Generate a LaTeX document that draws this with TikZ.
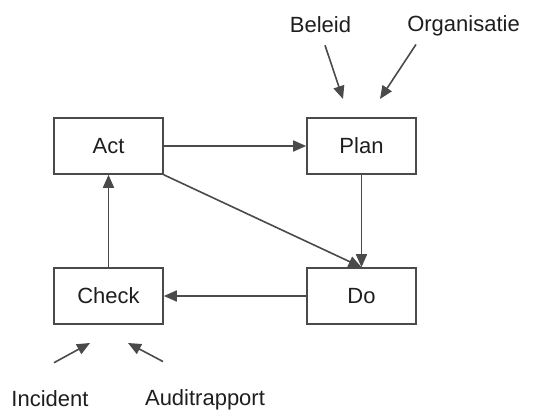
\documentclass[tikz,border=0pt]{standalone}
\usepackage{fontspec}
\setmainfont{Liberation Sans}
\usepackage{xcolor}
\usetikzlibrary{arrows.meta, positioning, calc}

\definecolor{linegray}{HTML}{4A4A4A}
\definecolor{textdark}{HTML}{1E1E1E}

\begin{document}
\begin{tikzpicture}[x=1pt, y=-1pt,
    phase/.style={draw=linegray, line width=1.6pt, rectangle, minimum width=109pt, minimum height=56pt, text=textdark, font=\fontsize{22}{26}\selectfont},
    input/.style={text=textdark, font=\fontsize{22}{26}\selectfont, inner sep=0pt},
    flow/.style={draw=linegray, line width=1.6pt, -{Triangle[length=13pt, width=11pt]}}]
  \useasboundingbox (0,0) rectangle (541,413);

  % the four phases
  \node[phase] (act) at (108.5, 146) {Act};
  \node[phase] (plan) at (361.5, 146) {Plan};
  \node[phase] (check) at (108.5, 296) {Check};
  \node[phase] (do) at (361.5, 296) {Do};

  % inputs
  \node[input] (beleid) at (320.5, 25) {Beleid};
  \node[input] (organisatie) at (463.5, 26) {Organisatie};
  \node[input] (incident) at (50, 399) {Incident};
  \node[input] (auditrapport) at (205, 400) {Auditrapport};

  \coordinate (beleid-to) at (343, 99);
  \coordinate (organisatie-to) at (380, 99);
  \coordinate (incident-to) at (90, 343);
  \coordinate (auditrapport-to) at (128, 343);

  \draw[flow] (act) -- (plan);
  \draw[flow] (plan) -- (do);
  \draw[flow] (act.south east) -- (do.north);
  \draw[flow] (do) -- (check);
  \draw[flow] (check) -- (act);

  \draw[flow] ($(beleid.south)+(4.5,12)$) -- (beleid-to);
  \draw[flow] ($(organisatie.south)+(-47.5,8)$) -- (organisatie-to);
  \draw[flow] ($(incident.north)+(4,-28)$) -- (incident-to);
  \draw[flow] ($(auditrapport.north)+(-42,-28)$) -- (auditrapport-to);
\end{tikzpicture}
\end{document}
